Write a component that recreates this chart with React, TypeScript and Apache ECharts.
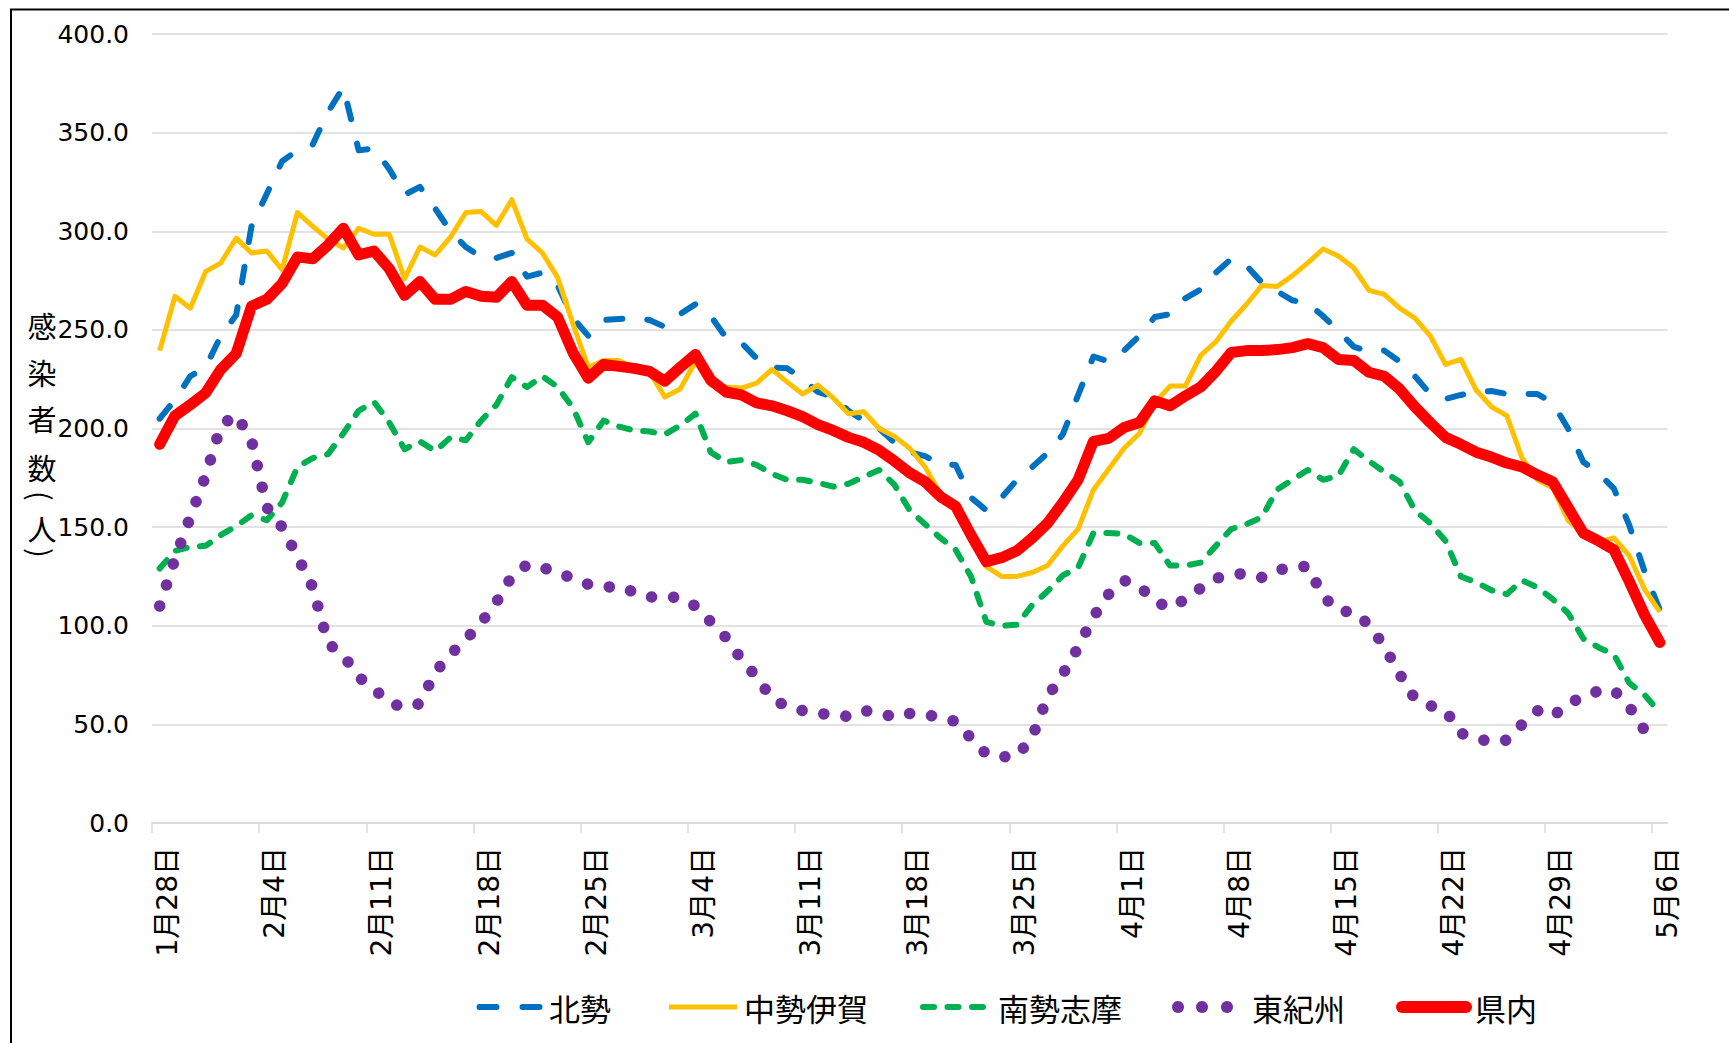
import React, { useEffect, useRef } from "react";
import * as echarts from "echarts";

const categories = [
  "1月28日", "1月29日", "1月30日", "1月31日",
  "2月1日", "2月2日", "2月3日", "2月4日", "2月5日", "2月6日", "2月7日", "2月8日", "2月9日", "2月10日",
  "2月11日", "2月12日", "2月13日", "2月14日", "2月15日", "2月16日", "2月17日", "2月18日", "2月19日", "2月20日",
  "2月21日", "2月22日", "2月23日", "2月24日", "2月25日", "2月26日", "2月27日", "2月28日",
  "3月1日", "3月2日", "3月3日", "3月4日", "3月5日", "3月6日", "3月7日", "3月8日", "3月9日", "3月10日",
  "3月11日", "3月12日", "3月13日", "3月14日", "3月15日", "3月16日", "3月17日", "3月18日", "3月19日", "3月20日",
  "3月21日", "3月22日", "3月23日", "3月24日", "3月25日", "3月26日", "3月27日", "3月28日", "3月29日", "3月30日", "3月31日",
  "4月1日", "4月2日", "4月3日", "4月4日", "4月5日", "4月6日", "4月7日", "4月8日", "4月9日", "4月10日",
  "4月11日", "4月12日", "4月13日", "4月14日", "4月15日", "4月16日", "4月17日", "4月18日", "4月19日", "4月20日",
  "4月21日", "4月22日", "4月23日", "4月24日", "4月25日", "4月26日", "4月27日", "4月28日", "4月29日", "4月30日",
  "5月1日", "5月2日", "5月3日", "5月4日", "5月5日", "5月6日",
];

// 北勢
const hokusei = [
  205, 214.5, 226.5, 231, 247, 257.5, 302.5, 319, 335.5, 341,
  344, 360.5, 373, 341, 342, 331.5, 318.5, 322.5, 311.5, 300,
  292, 287, 286.5, 289, 277, 279, 272.5, 256, 247, 255,
  255.5, 256, 255, 251.5, 258, 263, 257, 246, 243.5, 235.5,
  231, 230.5, 225, 218.5, 216, 209, 204, 200, 193, 188,
  186, 182, 181.5, 165, 158.5, 165, 174, 180.5, 187.5, 197,
  217, 236.5, 234, 239.5, 247, 256.5, 258, 266, 270.5, 279,
  286, 282.5, 274, 269.5, 265, 263.5, 257, 249.5, 241.5, 239,
  239.5, 234, 226.5, 217.5, 215, 217, 218.5, 219, 217.5, 217.5,
  217.5, 213, 200, 183, 177.5, 169.5, 151, 127.5, 108,
];

// 中勢伊賀
const chuseiIga = [
  239.5, 267, 261, 279.5, 284, 296.5, 289, 290, 280.5, 309.5,
  302.5, 296, 291.5, 301.5, 298.5, 298.5, 276, 292, 288, 297,
  309.5, 310, 303, 316, 296, 289, 276.5, 253, 231, 234.5,
  234.5, 231, 228.5, 216, 220, 234, 222, 221, 220.5, 223,
  230, 223.5, 217.5, 222, 215.5, 207.5, 208.5, 200, 196, 190,
  180.5, 167, 158, 146, 130, 125, 125, 127, 130.5, 140.5,
  149, 169, 179.5, 190, 197.5, 213, 221.5, 221.5, 237, 244,
  254.5, 263, 272.5, 272, 277.5, 284, 291, 287.5, 281.5, 270,
  268, 261, 256, 247, 232.5, 235, 219.5, 211, 206.5, 185,
  174, 170, 153.5, 147, 142.5, 144.5, 135.5, 118.5, 107,
];

// 南勢志摩
const nanseiShima = [
  129, 138, 140, 140.5, 146, 150.5, 156, 153.5, 162.5, 180.5,
  185, 187, 197.5, 209, 213.5, 203, 189.5, 193.5, 188.5, 195.5,
  194, 204, 212, 226, 221, 226.5, 221, 210.5, 193, 204,
  201, 199, 198.5, 197, 201.5, 207.5, 188, 183, 184, 181.5,
  177, 174, 174, 172.5, 170.5, 172, 175.5, 179, 171.5, 158.5,
  151.5, 144.5, 138.5, 125, 102, 100, 100.5, 110.5, 117.5, 125.5,
  129.5, 147, 147, 146.5, 142, 142, 130.5, 130.5, 132, 140.5,
  149, 151.5, 155, 169, 174, 179, 174, 176, 189.5, 183.5,
  178, 173, 158.5, 152, 143, 125, 122, 118, 116, 123,
  119.5, 113.5, 106.5, 93.5, 89, 85.5, 71, 65, 56,
];

// 東紀州
const higashiKishu = [
  110, 134, 155, 176, 201.5, 207, 194, 160, 150, 135,
  119.5, 91, 85, 74, 68, 61, 58.5, 60.5, 76.5, 85.5,
  93, 101.5, 112, 125, 131, 129.5, 127, 124, 121, 119.5,
  120, 117, 114.5, 115, 114, 110, 102, 94, 83, 74,
  63, 59, 57, 55.5, 55, 54, 57, 56, 53.5, 55.5,
  55, 53.5, 51.5, 43, 35, 33.5, 34, 43.5, 64, 75.5,
  89, 104.5, 116, 123, 120, 112.5, 109, 113.5, 119, 124,
  126, 126.5, 124.5, 128, 130, 130, 115, 107.5, 107, 100.5,
  89.5, 75.5, 63, 59.5, 57, 45.5, 43, 41, 42, 50,
  57, 54, 60.5, 64, 67, 67.3, 59, 47, null,
];

// 県内
const kennai = [
  192, 206.5, 212, 218, 230, 238, 262, 265.5, 273.5, 287,
  286, 293, 301.5, 288, 290, 281, 267.5, 274.5, 265.5, 265.5,
  269.5, 267, 266.5, 274.5, 262.5, 262.5, 256.5, 238.5, 225.5, 232.5,
  231.5, 230.5, 229, 224, 231, 237.5, 224.5, 218.5, 217, 213,
  211.5, 209, 206, 202, 199, 195.5, 193, 189, 183.5, 177.5,
  173, 165.5, 160.5, 146, 132.5, 134.5, 138, 144.5, 152, 162.5,
  174, 193.5, 195, 200.5, 203, 214, 211.5, 216.5, 221, 229,
  238.5, 239.5, 239.5, 240, 241, 243, 241, 235, 234.5, 228.5,
  226.5, 220, 211, 203, 195.5, 192, 188, 185.5, 182.5, 180.5,
  176.5, 173, 160, 147, 143, 138.5, 122.5, 105.5, 91.5,
];

const seriesNames = ["北勢", "中勢伊賀", "南勢志摩", "東紀州", "県内"];
const seriesColors = ["#0070C0", "#FFC000", "#00B050", "#7030A0", "#FF0000"];
const weekTickIndices = [0, 7, 14, 21, 28, 35, 42, 49, 56, 63, 70, 77, 84, 91, 98];
const yAxisTitle = ["感", "染", "者", "数", "(", "人", ")"];

const NUM_FONT = "'DejaVu Sans', 'Noto Sans CJK JP', sans-serif";
const JP_FONT = "'Noto Sans CJK JP', sans-serif";

export default function App() {
  const ref = useRef<HTMLDivElement>(null);

  useEffect(() => {
    const chart = echarts.init(ref.current as HTMLDivElement, null, { renderer: "svg" });

    const styles = [
      { width: 6, type: [16, 25] as any, cap: "round" },
      { width: 5, type: "solid" as any, cap: "butt" },
      { width: 6, type: [11, 13.5] as any, cap: "round" },
      { width: 11.5, type: [0.1, 22] as any, cap: "round" },
      { width: 11, type: "solid" as any, cap: "round" },
    ];
    const datas = [hokusei, chuseiIga, nanseiShima, higashiKishu, kennai];

    const series = datas.map((d, k) => ({
      name: seriesNames[k],
      type: "line",
      data: d,
      symbol: "none",
      showSymbol: false,
      connectNulls: false,
      z: 2 + k,
      lineStyle: {
        color: seriesColors[k],
        width: styles[k].width,
        type: styles[k].type,
        cap: styles[k].cap,
        join: "round",
      },
    }));

    // y-axis title (stacked vertical text)
    const titleY = [325, 372, 418, 467, 496, 528, 553];
    const titleGraphics = yAxisTitle.map((ch, k) => ({
      type: "text",
      x: 42,
      y: titleY[k],
      rotation: ch === "(" || ch === ")" ? -Math.PI / 2 : 0,
      silent: true,
      style: {
        text: ch,
        fontSize: 29,
        fontFamily: JP_FONT,
        fill: "#000",
        align: "center",
        verticalAlign: "middle",
      },
    }));

    const LY = 1007;
    const legendTextX = [549, 744, 998, 1252, 1475];
    const legendGraphics: any[] = [
      {
        type: "line",
        silent: true,
        shape: { x1: 479.5, y1: LY, x2: 539.5, y2: LY },
        style: { stroke: seriesColors[0], lineWidth: 6, lineDash: [17, 26], lineCap: "round" },
      },
      {
        type: "line",
        silent: true,
        shape: { x1: 669, y1: LY, x2: 737, y2: LY },
        style: { stroke: seriesColors[1], lineWidth: 5 },
      },
      {
        type: "line",
        silent: true,
        shape: { x1: 923, y1: LY, x2: 984, y2: LY },
        style: { stroke: seriesColors[2], lineWidth: 6, lineDash: [11, 13.5], lineCap: "round" },
      },
      ...[1178, 1202, 1227].map((cx) => ({
        type: "circle",
        silent: true,
        shape: { cx, cy: LY, r: 6 },
        style: { fill: seriesColors[3] },
      })),
      {
        type: "line",
        silent: true,
        shape: { x1: 1402, y1: LY, x2: 1466, y2: LY },
        style: { stroke: seriesColors[4], lineWidth: 12, lineCap: "round" },
      },
      ...seriesNames.map((n, k) => ({
        type: "text",
        silent: true,
        x: legendTextX[k],
        y: LY,
        style: {
          text: n,
          fontSize: 31,
          fontFamily: JP_FONT,
          fill: "#000",
          align: "left",
          verticalAlign: "middle",
        },
      })),
    ];

    chart.setOption({
      animation: false,
      backgroundColor: "#ffffff",
      grid: { left: 152, right: 61.5, top: 34, bottom: 220 },
      xAxis: [
        {
          type: "category",
          data: categories,
          boundaryGap: true,
          position: "bottom",
          axisLine: { show: true, lineStyle: { color: "#d9d9d9", width: 1.5 } },
          axisTick: { show: false },
          axisLabel: {
            interval: 6,
            rotate: 90,
            margin: 24,
            fontSize: 28,
            fontFamily: NUM_FONT,
            color: "#000",
            verticalAlign: "top",
            lineHeight: 16,
          },
          splitLine: { show: false },
        },
        {
          type: "value",
          min: 0,
          max: 99,
          interval: 7,
          position: "bottom",
          axisLine: { show: false },
          axisTick: {
            show: true,
            length: 10,
            customValues: weekTickIndices,
            lineStyle: { color: "#d9d9d9", width: 1.5 },
          },
          axisLabel: { show: false },
          splitLine: { show: false },
        },
      ],
      yAxis: {
        type: "value",
        min: 0,
        max: 400,
        interval: 50,
        axisLine: { show: false },
        axisTick: { show: false },
        axisLabel: {
          margin: 23,
          fontSize: 25,
          fontFamily: NUM_FONT,
          color: "#000",
          formatter: (v: number) => v.toFixed(1),
        },
        splitLine: { lineStyle: { color: "#d9d9d9", width: 1.5 } },
      },
      series,
      graphic: [
        {
          type: "rect",
          silent: true,
          z: -10,
          shape: { x: 11, y: 9.5, width: 1760, height: 1100 },
          style: { fill: "none", stroke: "#000", lineWidth: 2 },
        },
        ...titleGraphics,
        ...legendGraphics,
      ],
    });

    return () => chart.dispose();
  }, []);

  return (
    <div
      ref={ref}
      style={{ position: "fixed", left: 0, top: 0, width: 1729, height: 1043, background: "#fff" }}
    />
  );
}
